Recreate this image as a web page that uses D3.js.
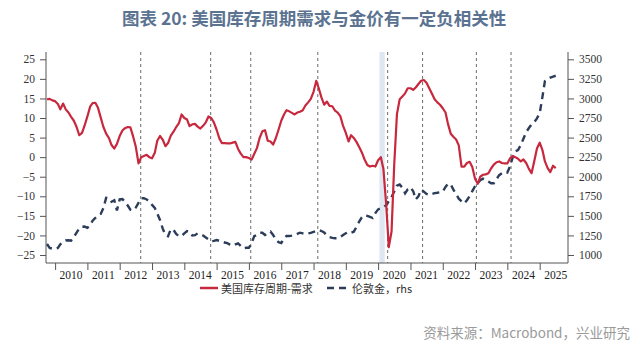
<!DOCTYPE html>
<html><head><meta charset="utf-8">
<script src="https://cdn.jsdelivr.net/npm/d3@7"></script>
<style>body{margin:0;background:#fff}svg{display:block}</style>
</head><body><svg id="c" width="640" height="346"></svg>
<script>
// ---- data ----
const title = "图表 20: 美国库存周期需求与金价有一定负相关性";
const source = "资料来源：Macrobond，兴业研究";
const seriesNames = ["美国库存周期-需求", "伦敦金，rhs"];
const firstMonth = "2009-10";
// US inventory cycle - demand (left axis), monthly from 2009-10
const cycleValues = [
 14.8,14.9,14.5,
 14.3,13.6,12.2,13.7,12.2,11.4,10.3,9.3,7.7,5.6,6.2,8.1,
 10.4,12.9,13.8,13.9,12.6,10.1,7.7,6.0,4.9,3.1,2.2,3.4,
 5.4,6.8,7.4,7.7,7.6,5.3,2.7,-1.6,0.0,0.3,0.6,0.0,
 -0.3,1.1,4.2,5.4,4.5,2.8,3.6,5.5,6.5,7.7,8.7,10.9,
 10.0,9.6,7.9,8.4,8.5,7.8,7.3,8.0,8.9,10.4,10.0,8.9,
 7.0,4.8,3.6,3.6,3.5,3.5,3.7,3.9,2.1,0.9,0.0,0.0,
 -0.2,-0.6,0.8,2.3,4.9,6.6,6.9,4.2,4.0,3.2,4.9,7.0,
 9.3,10.9,12.0,11.7,11.3,10.9,11.4,11.6,12.0,13.2,14.0,14.9,
 16.7,19.5,17.6,15.2,13.4,14.2,13.1,13.0,11.9,11.4,10.4,8.0,
 6.2,4.0,5.6,4.9,3.9,2.6,1.2,-0.6,-2.0,-2.4,-2.2,-2.4,
 -0.8,0.0,-3,-12,-23,-19,-2,11,14.8,15.5,16.3,17.6,
 17.6,17.2,17.8,18.7,19.5,19.7,19.0,17.6,16.2,14.8,14.0,13.4,
 12.5,11.4,8.5,6.0,5.2,4.5,3.0,-2.4,-2.4,-1.5,-1.2,-2.5,
 -5.5,-6.8,-5.0,-4.5,-4.4,-4.1,-2.9,-1.9,-1.3,-1.1,-1.5,-1.6,
 -1.6,-0.3,0.3,0.0,-0.4,-1.1,-0.6,-1.5,-3.0,-4.1,-1.0,2.2,
 3.7,1.8,-1.1,-2.8,-3.8,-2.2,-2.8
];
// London gold price, USD/oz (right axis), monthly from 2009-10
const goldValues = [
 1140,1090,1082,
 1077,1090,1136,1168,1186,1189,1184,1230,1285,1340,1361,1363,
 1348,1380,1439,1473,1505,1525,1600,1730,1728,1680,1700,1570,
 1710,1714,1680,1632,1580,1570,1606,1666,1725,1725,1710,1683,
 1640,1602,1530,1448,1340,1253,1240,1330,1320,1268,1240,1244,
 1276,1305,1298,1250,1253,1277,1266,1250,1224,1200,1175,1180,
 1191,1181,1169,1160,1151,1133,1119,1135,1147,1115,1086,1093,
 1092,1150,1240,1257,1284,1284,1256,1280,1300,1256,1195,1163,
 1152,1215,1243,1243,1248,1255,1270,1285,1277,1270,1275,1282,
 1294,1308,1318,1306,1287,1252,1229,1218,1214,1214,1232,1255,
 1277,1297,1285,1298,1358,1427,1480,1507,1499,1486,1472,1535,
 1583,1597,1610,1635,1690,1742,1810,1885,1900,1860,1789,1840,
 1865,1815,1710,1750,1835,1810,1780,1767,1780,1790,1795,1802,
 1812,1870,1910,1902,1835,1775,1720,1685,1658,1700,1752,1816,
 1880,1920,1955,1975,1962,1940,1917,1917,1970,2020,2045,2063,
 2054,2135,2245,2325,2340,2405,2485,2570,2622,2670,2698,2745,
 2811,3020,3222,3250,3266,3280,3290
];
const years = ["2010","2011","2012","2013","2014","2015","2016","2017","2018","2019","2020","2021","2022","2023","2024","2025"];
const leftTicks = [25,20,15,10,5,0,-5,-10,-15,-20,-25];
const rightTicks = [3500,3250,3000,2750,2500,2250,2000,1750,1500,1250,1000];
const cycleTurns = ["2012-08-26","2014-10-26","2016-01-22","2018-02-18","2020-04-18","2021-05-18","2023-01-16","2024-02-12"];
const recession = ["2020-01-16","2020-03-16"];

// ---- drawing ----
const svg = d3.select("#c");
const parseM = d3.timeParse("%Y-%m");
const parseD = d3.timeParse("%Y-%m-%d");
const start = parseM(firstMonth);
const monthsFor = arr => arr.map((v,i)=>({date:d3.timeMonth.offset(start,i), v}));
const cycleData = monthsFor(cycleValues);
const goldData = monthsFor(goldValues);

const L = 46, R = 568, T = 52, B = 263;
const x = d3.scaleTime().domain([new Date(2009,8,20), new Date(2025,10,17)]).range([L,R]);
const yL = d3.scaleLinear().domain([-25,25]).range([255,59.3]);
const yR = d3.scaleLinear().domain([1000,3500]).range([255,59.3]);

svg.append("rect").attr("width",640).attr("height",346).attr("fill","#fff");

svg.append("text").attr("x",122).attr("y",25)
  .attr("font-family","'Noto Sans CJK SC','Noto Sans',sans-serif")
  .attr("font-size",17.5).attr("font-weight","bold").attr("fill","#5b7391")
  .text(title);

// recession band
svg.append("rect")
  .attr("x",x(parseD(recession[0]))).attr("y",T)
  .attr("width",x(parseD(recession[1]))-x(parseD(recession[0]))).attr("height",B-T)
  .attr("fill","#dfe7f2");

// cycle turning lines
svg.append("g").selectAll("line").data(cycleTurns).join("line")
  .attr("x1",d=>x(parseD(d))).attr("x2",d=>x(parseD(d)))
  .attr("y1",T).attr("y2",B)
  .attr("stroke","#6b6b6b").attr("stroke-width",1).attr("stroke-dasharray","3,3");

// axes
const serif = "'Liberation Serif','DejaVu Serif',serif";
const gl = svg.append("g").attr("transform",`translate(${L},0)`)
  .call(d3.axisLeft(yL).tickValues(leftTicks).tickSize(6).tickPadding(5).tickFormat(d3.format("d")));
const gr = svg.append("g").attr("transform",`translate(${R},0)`)
  .call(d3.axisRight(yR).tickValues(rightTicks).tickSize(6).tickPadding(5).tickFormat(d3.format("d")));
[gl,gr].forEach(g=>{
  g.select(".domain").remove();
  g.selectAll("line").attr("stroke","#555");
  g.selectAll("text").attr("font-family",serif).attr("font-size",11.5).attr("fill","#333");
});
svg.append("line").attr("x1",L).attr("x2",L).attr("y1",T).attr("y2",B).attr("stroke","#555");
svg.append("line").attr("x1",R).attr("x2",R).attr("y1",T).attr("y2",B).attr("stroke","#555");

const yearStarts = years.map(y=>new Date(+y,0,1));
const gx = svg.append("g").attr("transform",`translate(0,${B})`)
  .call(d3.axisBottom(x).tickValues(yearStarts).tickSize(7).tickFormat(""));
gx.select(".domain").remove();
gx.selectAll("line").attr("stroke","#555");
svg.append("line").attr("x1",L).attr("x2",R).attr("y1",B).attr("y2",B).attr("stroke","#555");
svg.append("g").selectAll("text").data(years).join("text")
  .attr("x",d=>x(new Date(+d,6,1))).attr("y",278.5)
  .attr("text-anchor","middle").attr("font-family",serif).attr("font-size",11.5).attr("fill","#222")
  .text(d=>d);

// lines
const redCol = "#c7283d", blueCol = "#2c3d5a";
svg.append("path").datum(goldData)
  .attr("d",d3.line().x(d=>x(d.date)).y(d=>yR(d.v)))
  .attr("fill","none").attr("stroke",blueCol).attr("stroke-width",2.4)
  .attr("stroke-dasharray","7,5");
svg.append("path").datum(cycleData)
  .attr("d",d3.line().x(d=>x(d.date)).y(d=>yL(d.v)))
  .attr("fill","none").attr("stroke",redCol).attr("stroke-width",2.2)
  .attr("stroke-linejoin","round");

// legend
const cjk = "'Noto Sans CJK SC','Noto Sans',sans-serif";
const lg = svg.append("g");
lg.append("line").attr("x1",200).attr("x2",218).attr("y1",288).attr("y2",288).attr("stroke",redCol).attr("stroke-width",2.5);
lg.append("text").attr("x",221).attr("y",292.5).attr("font-family",cjk).attr("font-size",11).attr("fill","#333").text(seriesNames[0]);
lg.append("line").attr("x1",327).attr("x2",350).attr("y1",288).attr("y2",288).attr("stroke",blueCol).attr("stroke-width",2.5).attr("stroke-dasharray","7,5");
lg.append("text").attr("x",352).attr("y",292.5).attr("font-family",cjk).attr("font-size",11).attr("fill","#333").text(seriesNames[1]);

svg.append("text").attr("x",630).attr("y",338).attr("text-anchor","end")
  .attr("font-family",cjk).attr("font-size",13.5).attr("fill","#9a9a9a").text(source);
</script></body></html>
